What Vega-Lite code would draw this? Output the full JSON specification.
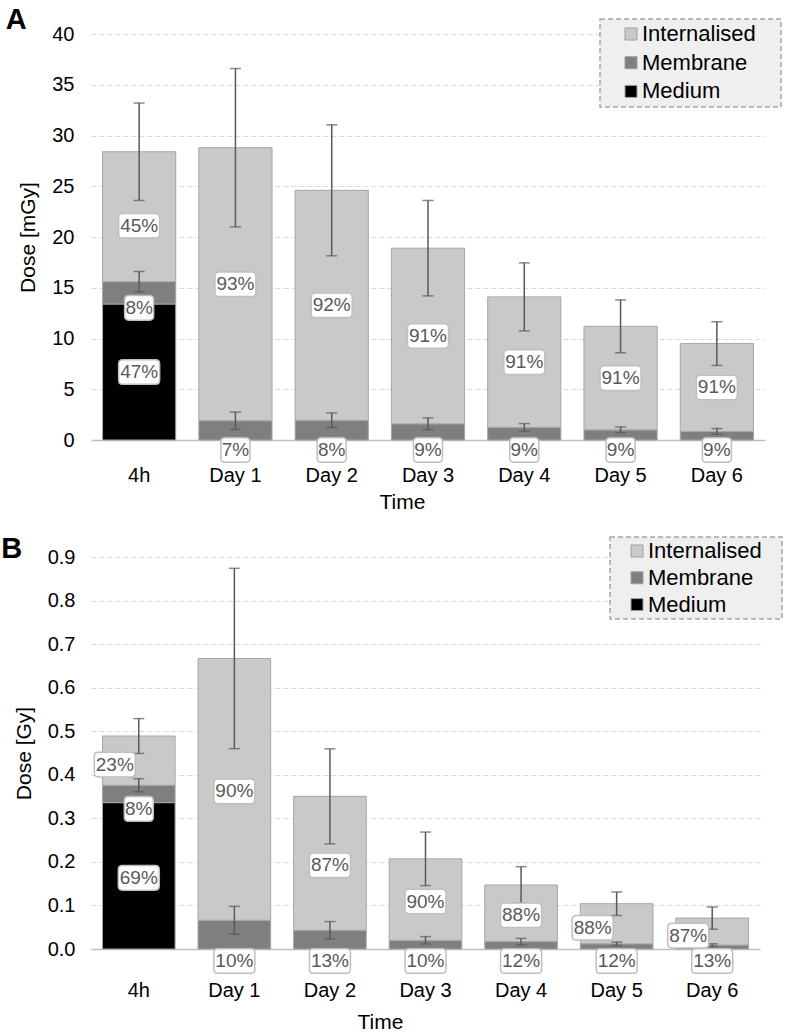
{
  "$schema": "https://vega.github.io/schema/vega-lite/v6.json",
  "background": "white",
  "padding": {"left": 1, "top": 5, "right": 0, "bottom": 0},
  "spacing": 23,
  "columns": 1,
  "align": "none",
  "resolve": {"scale": {"color": "independent", "x": "independent", "y": "independent"}, "legend": {"color": "independent"}},
  "config": {
    "view": {"stroke": null},
    "font": "Liberation Sans"
  },
  "concat": [
    {
      "title": {"text": "A", "anchor": "start", "frame": "bounds", "fontSize": 29, "font": "Liberation Sans", "fontWeight": "bold", "color": "#000000", "dx": -12, "offset": -9, "dy": 30.5, "baseline": "alphabetic"},
      "width": 674,
      "height": 406,
      "data": {"values": [
        {"time": "4h", "comp": "Medium", "value": 13.4, "pct": 47},
        {"time": "4h", "comp": "Membrane", "value": 2.2, "sd": 1.0, "pct": 8},
        {"time": "4h", "comp": "Internalised", "value": 12.8, "sd": 4.8, "pct": 45},
        {"time": "Day 1", "comp": "Membrane", "value": 1.9, "sd": 0.85, "pct": 7},
        {"time": "Day 1", "comp": "Internalised", "value": 26.9, "sd": 7.8, "pct": 93},
        {"time": "Day 2", "comp": "Membrane", "value": 1.95, "sd": 0.72, "pct": 8},
        {"time": "Day 2", "comp": "Internalised", "value": 22.65, "sd": 6.45, "pct": 92},
        {"time": "Day 3", "comp": "Membrane", "value": 1.6, "sd": 0.58, "pct": 9},
        {"time": "Day 3", "comp": "Internalised", "value": 17.3, "sd": 4.7, "pct": 91},
        {"time": "Day 4", "comp": "Membrane", "value": 1.25, "sd": 0.37, "pct": 9},
        {"time": "Day 4", "comp": "Internalised", "value": 12.85, "sd": 3.35, "pct": 91},
        {"time": "Day 5", "comp": "Membrane", "value": 1.0, "sd": 0.29, "pct": 9},
        {"time": "Day 5", "comp": "Internalised", "value": 10.2, "sd": 2.6, "pct": 91},
        {"time": "Day 6", "comp": "Membrane", "value": 0.85, "sd": 0.28, "pct": 9},
        {"time": "Day 6", "comp": "Internalised", "value": 8.65, "sd": 2.15, "pct": 91}
      ]},
      "transform": [
        {"calculate": "indexof(['Medium','Membrane','Internalised'], datum.comp)", "as": "ord"},
        {"stack": "value", "groupby": ["time"], "sort": [{"field": "ord", "order": "ascending"}], "as": ["v0", "v1"]},
        {"calculate": "(datum.v0 + datum.v1) / 2", "as": "mid"},
        {"calculate": "datum.v1 - datum.sd", "as": "lo"},
        {"calculate": "datum.v1 + datum.sd", "as": "hi"},
        {"calculate": "datum.pct + '%'", "as": "lbl"}
      ],
      "encoding": {
        "x": {
          "field": "time", "type": "nominal", "sort": null,
          "scale": {"domain": ["4h", "Day 1", "Day 2", "Day 3", "Day 4", "Day 5", "Day 6"], "paddingInner": 0.24, "paddingOuter": 0.12},
          "axis": {"title": "Time", "labelAngle": 0, "ticks": false, "domain": true, "domainColor": "#bfbfbf", "domainWidth": 1.5, "grid": false, "labelFontSize": 20, "labelFont": "Liberation Sans", "labelColor": "#000000", "labelPadding": 25, "titleFontSize": 21, "titleFont": "Liberation Sans", "titleFontWeight": "normal", "titleColor": "#000000", "titlePadding": 6, "titleX": 311}
        }
      },
      "layer": [
        {
          "mark": {"type": "bar", "stroke": "#a6a6a6", "strokeWidth": 1},
          "encoding": {
            "y": {"field": "v0", "type": "quantitative", "title": "Dose [mGy]",
              "scale": {"domain": [0, 40], "nice": false},
              "axis": {"tickCount": 8, "domain": false, "ticks": false, "grid": true, "gridDash": [5, 3], "gridColor": "#d9d9d9", "gridWidth": 1, "labelFontSize": 20, "labelFont": "Liberation Sans", "labelColor": "#000000", "labelPadding": 17, "titleFontSize": 21, "titleFont": "Liberation Sans", "titleFontWeight": "normal", "titleColor": "#000000", "titlePadding": 13}},
            "y2": {"field": "v1"},
            "color": {"field": "comp", "type": "nominal",
              "scale": {"domain": ["Internalised", "Membrane", "Medium"], "range": ["#c9c9c9", "#7f7f7f", "#000000"]},
              "legend": {"title": "\u00a0", "titleOrient": "right", "titlePadding": 21, "titleFontSize": 4, "orient": "none", "legendX": 509, "legendY": -15, "direction": "vertical", "symbolType": "square", "symbolSize": 144, "symbolStrokeColor": "#a0a0a0", "symbolStrokeWidth": 1, "labelFontSize": 22, "labelFont": "Liberation Sans", "labelColor": "#000000", "padding": 4, "rowPadding": 6.7, "symbolOffset": 16, "labelOffset": 0, "fillColor": "#efefef", "strokeColor": "#a6a6a6",
                "encoding": {"legend": {"strokeDash": {"value": [5, 3]}, "strokeWidth": {"value": 1.5}}}}}
          }
        },
        {
          "transform": [{"filter": "datum.sd > 0"}],
          "mark": {"type": "errorbar", "color": "#595959", "ticks": {"size": 11, "thickness": 1.5, "color": "#595959"}, "rule": {"strokeWidth": 1.5, "color": "#595959"}},
          "encoding": {"y": {"field": "lo", "type": "quantitative", "title": "Dose [mGy]"}, "y2": {"field": "hi"}}
        },
        {
          "transform": [{"filter": "datum.comp == 'Medium' || (datum.comp == 'Internalised' && datum.time != '4h')"}],
          "encoding": {"y": {"field": "mid", "type": "quantitative", "title": "Dose [mGy]"}},
          "layer": [
            {"mark": {"type": "point", "filled": true, "fill": "#ffffff", "stroke": "#bfbfbf", "strokeWidth": 1.5, "opacity": 1},
             "encoding": {
               "shape": {"condition": {"test": "datum.pct >= 10", "value": "M-0.8,-0.6 L0.8,-0.6 Q1,-0.6 1,-0.4 L1,0.4 Q1,0.6 0.8,0.6 L-0.8,0.6 Q-1,0.6 -1,0.4 L-1,-0.4 Q-1,-0.6 -0.8,-0.6 Z"}, "value": "M-0.72,-0.85 L0.72,-0.85 Q1,-0.85 1,-0.57 L1,0.57 Q1,0.85 0.72,0.85 L-0.72,0.85 Q-1,0.85 -1,0.57 L-1,-0.57 Q-1,-0.85 -0.72,-0.85 Z"},
               "size": {"condition": {"test": "datum.pct >= 10", "value": 1681}, "value": 841}}},
            {"mark": {"type": "text", "fontSize": 19, "font": "Liberation Sans", "color": "#595959"},
             "encoding": {"text": {"field": "lbl"}}}
          ]
        },
        {
          "transform": [{"filter": "datum.comp == 'Internalised' && datum.time == '4h'"}],
          "encoding": {"y": {"field": "mid", "type": "quantitative", "title": "Dose [mGy]"}},
          "layer": [
            {"mark": {"type": "point", "filled": true, "fill": "#ffffff", "stroke": "#bfbfbf", "strokeWidth": 1.5, "opacity": 1, "yOffset": 9},
             "encoding": {
               "shape": {"condition": {"test": "datum.pct >= 10", "value": "M-0.8,-0.6 L0.8,-0.6 Q1,-0.6 1,-0.4 L1,0.4 Q1,0.6 0.8,0.6 L-0.8,0.6 Q-1,0.6 -1,0.4 L-1,-0.4 Q-1,-0.6 -0.8,-0.6 Z"}, "value": "M-0.72,-0.85 L0.72,-0.85 Q1,-0.85 1,-0.57 L1,0.57 Q1,0.85 0.72,0.85 L-0.72,0.85 Q-1,0.85 -1,0.57 L-1,-0.57 Q-1,-0.85 -0.72,-0.85 Z"},
               "size": {"condition": {"test": "datum.pct >= 10", "value": 1681}, "value": 841}}},
            {"mark": {"type": "text", "fontSize": 19, "font": "Liberation Sans", "color": "#595959", "yOffset": 9},
             "encoding": {"text": {"field": "lbl"}}}
          ]
        },
        {
          "transform": [{"filter": "datum.comp == 'Membrane' && datum.time == '4h'"}],
          "encoding": {"y": {"field": "mid", "type": "quantitative", "title": "Dose [mGy]"}},
          "layer": [
            {"mark": {"type": "point", "filled": true, "fill": "#ffffff", "stroke": "#bfbfbf", "strokeWidth": 1.5, "opacity": 1, "yOffset": 15},
             "encoding": {
               "shape": {"condition": {"test": "datum.pct >= 10", "value": "M-0.8,-0.6 L0.8,-0.6 Q1,-0.6 1,-0.4 L1,0.4 Q1,0.6 0.8,0.6 L-0.8,0.6 Q-1,0.6 -1,0.4 L-1,-0.4 Q-1,-0.6 -0.8,-0.6 Z"}, "value": "M-0.72,-0.85 L0.72,-0.85 Q1,-0.85 1,-0.57 L1,0.57 Q1,0.85 0.72,0.85 L-0.72,0.85 Q-1,0.85 -1,0.57 L-1,-0.57 Q-1,-0.85 -0.72,-0.85 Z"},
               "size": {"condition": {"test": "datum.pct >= 10", "value": 1681}, "value": 841}}},
            {"mark": {"type": "text", "fontSize": 19, "font": "Liberation Sans", "color": "#595959", "yOffset": 15},
             "encoding": {"text": {"field": "lbl"}}}
          ]
        },
        {
          "transform": [{"filter": "datum.comp == 'Membrane' && datum.time != '4h'"}],
          "encoding": {"y": {"datum": 0, "type": "quantitative"}},
          "layer": [
            {"mark": {"type": "point", "filled": true, "fill": "#ffffff", "stroke": "#bfbfbf", "strokeWidth": 1.5, "opacity": 1, "yOffset": 10},
             "encoding": {
               "shape": {"condition": {"test": "datum.pct >= 10", "value": "M-0.8,-0.6 L0.8,-0.6 Q1,-0.6 1,-0.4 L1,0.4 Q1,0.6 0.8,0.6 L-0.8,0.6 Q-1,0.6 -1,0.4 L-1,-0.4 Q-1,-0.6 -0.8,-0.6 Z"}, "value": "M-0.72,-0.85 L0.72,-0.85 Q1,-0.85 1,-0.57 L1,0.57 Q1,0.85 0.72,0.85 L-0.72,0.85 Q-1,0.85 -1,0.57 L-1,-0.57 Q-1,-0.85 -0.72,-0.85 Z"},
               "size": {"condition": {"test": "datum.pct >= 10", "value": 1681}, "value": 841}}},
            {"mark": {"type": "text", "fontSize": 19, "font": "Liberation Sans", "color": "#595959", "yOffset": 10},
             "encoding": {"text": {"field": "lbl"}}}
          ]
        }
      ]
    },
    {
      "title": {"text": "B", "anchor": "start", "frame": "bounds", "fontSize": 29, "font": "Liberation Sans", "fontWeight": "bold", "color": "#000000", "dx": -12, "offset": -11, "dy": 40, "baseline": "alphabetic"},
      "width": 669,
      "height": 392,
      "data": {"values": [
        {"time": "4h", "comp": "Medium", "value": 0.336, "pct": 69},
        {"time": "4h", "comp": "Membrane", "value": 0.040, "sd": 0.015, "pct": 8},
        {"time": "4h", "comp": "Internalised", "value": 0.113, "sd": 0.040, "pct": 23},
        {"time": "Day 1", "comp": "Membrane", "value": 0.066, "sd": 0.032, "pct": 10},
        {"time": "Day 1", "comp": "Internalised", "value": 0.601, "sd": 0.207, "pct": 90},
        {"time": "Day 2", "comp": "Membrane", "value": 0.043, "sd": 0.020, "pct": 13},
        {"time": "Day 2", "comp": "Internalised", "value": 0.3075, "sd": 0.109, "pct": 87},
        {"time": "Day 3", "comp": "Membrane", "value": 0.020, "sd": 0.0085, "pct": 10},
        {"time": "Day 3", "comp": "Internalised", "value": 0.187, "sd": 0.0615, "pct": 90},
        {"time": "Day 4", "comp": "Membrane", "value": 0.017, "sd": 0.0073, "pct": 12},
        {"time": "Day 4", "comp": "Internalised", "value": 0.130, "sd": 0.042, "pct": 88},
        {"time": "Day 5", "comp": "Membrane", "value": 0.012, "sd": 0.004, "pct": 12},
        {"time": "Day 5", "comp": "Internalised", "value": 0.092, "sd": 0.027, "pct": 88},
        {"time": "Day 6", "comp": "Membrane", "value": 0.009, "sd": 0.003, "pct": 13},
        {"time": "Day 6", "comp": "Internalised", "value": 0.062, "sd": 0.0255, "pct": 87}
      ]},
      "transform": [
        {"calculate": "indexof(['Medium','Membrane','Internalised'], datum.comp)", "as": "ord"},
        {"stack": "value", "groupby": ["time"], "sort": [{"field": "ord", "order": "ascending"}], "as": ["v0", "v1"]},
        {"calculate": "(datum.v0 + datum.v1) / 2", "as": "mid"},
        {"calculate": "datum.v1 - datum.sd", "as": "lo"},
        {"calculate": "datum.v1 + datum.sd", "as": "hi"},
        {"calculate": "datum.pct + '%'", "as": "lbl"}
      ],
      "encoding": {
        "x": {
          "field": "time", "type": "nominal", "sort": null,
          "scale": {"domain": ["4h", "Day 1", "Day 2", "Day 3", "Day 4", "Day 5", "Day 6"], "paddingInner": 0.24, "paddingOuter": 0.12},
          "axis": {"title": "Time", "labelAngle": 0, "ticks": false, "domain": true, "domainColor": "#bfbfbf", "domainWidth": 1.5, "grid": false, "labelFontSize": 20, "labelFont": "Liberation Sans", "labelColor": "#000000", "labelPadding": 31, "titleFontSize": 21, "titleFont": "Liberation Sans", "titleFontWeight": "normal", "titleColor": "#000000", "titlePadding": 11, "titleX": 289}
        }
      },
      "layer": [
        {
          "mark": {"type": "bar", "stroke": "#a6a6a6", "strokeWidth": 1},
          "encoding": {
            "y": {"field": "v0", "type": "quantitative", "title": "Dose [Gy]",
              "scale": {"domain": [0, 0.9], "nice": false},
              "axis": {"tickCount": 9, "format": ".1f", "domain": false, "ticks": false, "grid": true, "gridDash": [5, 3], "gridColor": "#d9d9d9", "gridWidth": 1, "labelFontSize": 20, "labelFont": "Liberation Sans", "labelColor": "#000000", "labelPadding": 16, "titleFontSize": 21, "titleFont": "Liberation Sans", "titleFontWeight": "normal", "titleColor": "#000000", "titlePadding": 13}},
            "y2": {"field": "v1"},
            "color": {"field": "comp", "type": "nominal",
              "scale": {"domain": ["Internalised", "Membrane", "Medium"], "range": ["#c9c9c9", "#7f7f7f", "#000000"]},
              "legend": {"title": "\u00a0", "titleOrient": "right", "titlePadding": 17, "titleFontSize": 4, "orient": "none", "legendX": 519, "legendY": -20, "direction": "vertical", "symbolType": "square", "symbolSize": 144, "symbolStrokeColor": "#a0a0a0", "symbolStrokeWidth": 1, "labelFontSize": 22, "labelFont": "Liberation Sans", "labelColor": "#000000", "padding": 3, "rowPadding": 4.8, "symbolOffset": 13, "labelOffset": 0, "fillColor": "#efefef", "strokeColor": "#a6a6a6",
                "encoding": {"legend": {"strokeDash": {"value": [5, 3]}, "strokeWidth": {"value": 1.5}}}}}
          }
        },
        {
          "transform": [{"filter": "datum.sd > 0"}],
          "mark": {"type": "errorbar", "color": "#595959", "ticks": {"size": 11, "thickness": 1.5, "color": "#595959"}, "rule": {"strokeWidth": 1.5, "color": "#595959"}},
          "encoding": {"y": {"field": "lo", "type": "quantitative", "title": "Dose [Gy]"}, "y2": {"field": "hi"}}
        },
        {
          "transform": [{"filter": "datum.comp == 'Medium' || (datum.comp == 'Internalised' && indexof(['4h','Day 5','Day 6'], datum.time) < 0)"}],
          "encoding": {"y": {"field": "mid", "type": "quantitative", "title": "Dose [Gy]"}},
          "layer": [
            {"mark": {"type": "point", "filled": true, "fill": "#ffffff", "stroke": "#bfbfbf", "strokeWidth": 1.5, "opacity": 1, "yOffset": 2},
             "encoding": {
               "shape": {"condition": {"test": "datum.pct >= 10", "value": "M-0.8,-0.6 L0.8,-0.6 Q1,-0.6 1,-0.4 L1,0.4 Q1,0.6 0.8,0.6 L-0.8,0.6 Q-1,0.6 -1,0.4 L-1,-0.4 Q-1,-0.6 -0.8,-0.6 Z"}, "value": "M-0.72,-0.85 L0.72,-0.85 Q1,-0.85 1,-0.57 L1,0.57 Q1,0.85 0.72,0.85 L-0.72,0.85 Q-1,0.85 -1,0.57 L-1,-0.57 Q-1,-0.85 -0.72,-0.85 Z"},
               "size": {"condition": {"test": "datum.pct >= 10", "value": 1681}, "value": 841}}},
            {"mark": {"type": "text", "fontSize": 19, "font": "Liberation Sans", "color": "#595959", "yOffset": 2},
             "encoding": {"text": {"field": "lbl"}}}
          ]
        },
        {
          "transform": [{"filter": "datum.comp == 'Internalised' && indexof(['4h','Day 5','Day 6'], datum.time) >= 0"}],
          "encoding": {"y": {"field": "mid", "type": "quantitative", "title": "Dose [Gy]"}},
          "layer": [
            {"mark": {"type": "point", "filled": true, "fill": "#ffffff", "stroke": "#bfbfbf", "strokeWidth": 1.5, "opacity": 1, "xOffset": -24, "yOffset": 4},
             "encoding": {
               "shape": {"condition": {"test": "datum.pct >= 10", "value": "M-0.8,-0.6 L0.8,-0.6 Q1,-0.6 1,-0.4 L1,0.4 Q1,0.6 0.8,0.6 L-0.8,0.6 Q-1,0.6 -1,0.4 L-1,-0.4 Q-1,-0.6 -0.8,-0.6 Z"}, "value": "M-0.72,-0.85 L0.72,-0.85 Q1,-0.85 1,-0.57 L1,0.57 Q1,0.85 0.72,0.85 L-0.72,0.85 Q-1,0.85 -1,0.57 L-1,-0.57 Q-1,-0.85 -0.72,-0.85 Z"},
               "size": {"condition": {"test": "datum.pct >= 10", "value": 1681}, "value": 841}}},
            {"mark": {"type": "text", "fontSize": 19, "font": "Liberation Sans", "color": "#595959", "xOffset": -24, "yOffset": 4},
             "encoding": {"text": {"field": "lbl"}}}
          ]
        },
        {
          "transform": [{"filter": "datum.comp == 'Membrane' && datum.time == '4h'"}],
          "encoding": {"y": {"field": "mid", "type": "quantitative", "title": "Dose [Gy]"}},
          "layer": [
            {"mark": {"type": "point", "filled": true, "fill": "#ffffff", "stroke": "#bfbfbf", "strokeWidth": 1.5, "opacity": 1, "yOffset": 15},
             "encoding": {
               "shape": {"condition": {"test": "datum.pct >= 10", "value": "M-0.8,-0.6 L0.8,-0.6 Q1,-0.6 1,-0.4 L1,0.4 Q1,0.6 0.8,0.6 L-0.8,0.6 Q-1,0.6 -1,0.4 L-1,-0.4 Q-1,-0.6 -0.8,-0.6 Z"}, "value": "M-0.72,-0.85 L0.72,-0.85 Q1,-0.85 1,-0.57 L1,0.57 Q1,0.85 0.72,0.85 L-0.72,0.85 Q-1,0.85 -1,0.57 L-1,-0.57 Q-1,-0.85 -0.72,-0.85 Z"},
               "size": {"condition": {"test": "datum.pct >= 10", "value": 1681}, "value": 841}}},
            {"mark": {"type": "text", "fontSize": 19, "font": "Liberation Sans", "color": "#595959", "yOffset": 15},
             "encoding": {"text": {"field": "lbl"}}}
          ]
        },
        {
          "transform": [{"filter": "datum.comp == 'Membrane' && datum.time != '4h'"}],
          "encoding": {"y": {"datum": 0, "type": "quantitative"}},
          "layer": [
            {"mark": {"type": "point", "filled": true, "fill": "#ffffff", "stroke": "#bfbfbf", "strokeWidth": 1.5, "opacity": 1, "yOffset": 12},
             "encoding": {
               "shape": {"condition": {"test": "datum.pct >= 10", "value": "M-0.8,-0.6 L0.8,-0.6 Q1,-0.6 1,-0.4 L1,0.4 Q1,0.6 0.8,0.6 L-0.8,0.6 Q-1,0.6 -1,0.4 L-1,-0.4 Q-1,-0.6 -0.8,-0.6 Z"}, "value": "M-0.72,-0.85 L0.72,-0.85 Q1,-0.85 1,-0.57 L1,0.57 Q1,0.85 0.72,0.85 L-0.72,0.85 Q-1,0.85 -1,0.57 L-1,-0.57 Q-1,-0.85 -0.72,-0.85 Z"},
               "size": {"condition": {"test": "datum.pct >= 10", "value": 1681}, "value": 841}}},
            {"mark": {"type": "text", "fontSize": 19, "font": "Liberation Sans", "color": "#595959", "yOffset": 12},
             "encoding": {"text": {"field": "lbl"}}}
          ]
        }
      ]
    }
  ]
}
